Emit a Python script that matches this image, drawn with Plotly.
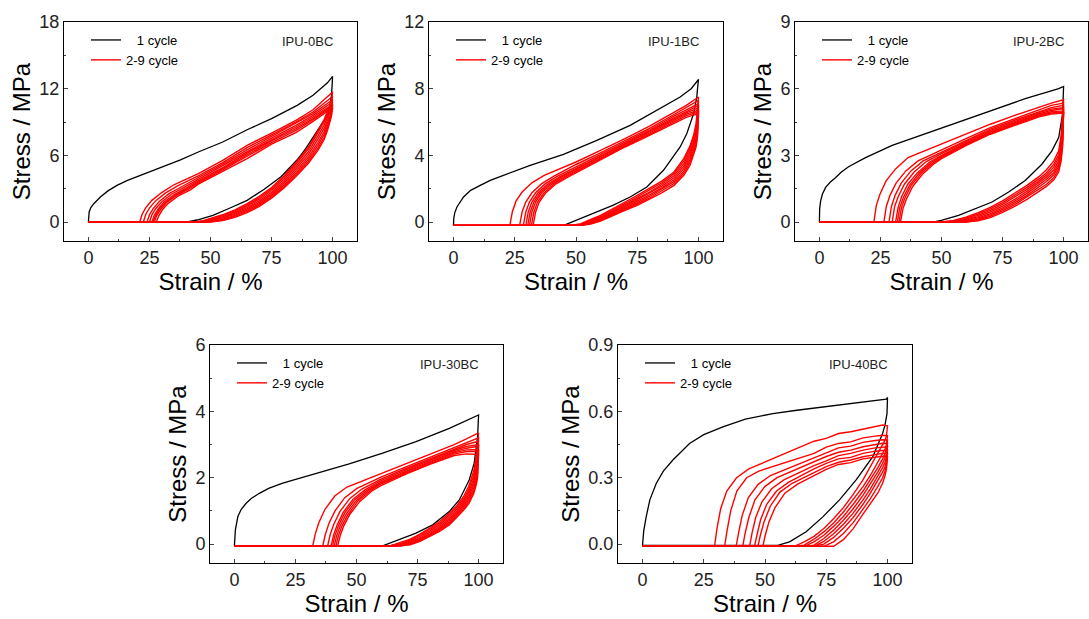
import plotly.graph_objects as go

# ---------------- IPU-0BC ----------------
ipu0_c1_load_x = [0, 0.3, 1, 2.2, 4.9, 8, 11.7, 16, 21.3, 29.5, 37.7, 45, 55, 65, 75, 85.5, 92, 97.8, 100]
ipu0_c1_load_y = [0, 0.9, 1.3, 1.65, 2.25, 2.8, 3.3, 3.75, 4.2, 4.9, 5.6, 6.3, 7.2, 8.3, 9.3, 10.5, 11.4, 12.5, 13.1]
ipu0_c1_unload_x = [100, 99.6, 98.5, 95.5, 92.3, 89, 85.5, 79, 72, 65, 58, 51, 44.5, 40.5, 0]
ipu0_c1_unload_y = [13.1, 11.5, 9.8, 8.8, 7.7, 6.6, 5.6, 4.1, 2.95, 1.95, 1.26, 0.6, 0.18, 0, 0]
ipu0_head_x = [
    [0, 21, 22, 23.5, 26, 30, 35],
    [0, 22.5, 23.5, 25, 27.5, 31.5, 36.5],
    [0, 24, 25, 26.5, 29, 33, 38],
    [0, 25, 26, 27.5, 30, 34, 39],
    [0, 26, 27, 28.5, 31, 35, 40],
    [0, 26.5, 27.5, 29, 31.5, 35.5, 40.5],
    [0, 27, 28, 29.5, 32, 36, 41],
    [0, 27.8, 28.8, 30.3, 32.8, 36.8, 41.8],
]
ipu0_head_y = [
    [0, 0, 0.7, 1.3, 1.95, 2.65, 3.35],
    [0, 0, 0.7, 1.25, 1.9, 2.6, 3.25],
    [0, 0, 0.65, 1.2, 1.85, 2.55, 3.15],
    [0, 0, 0.65, 1.2, 1.8, 2.5, 3.1],
    [0, 0, 0.6, 1.15, 1.8, 2.45, 3.05],
    [0, 0, 0.6, 1.15, 1.75, 2.4, 3.0],
    [0, 0, 0.6, 1.1, 1.75, 2.4, 2.95],
    [0, 0, 0.55, 1.1, 1.7, 2.35, 2.9],
]
ipu0_tail_x = [45, 55, 65, 75, 85, 92, 100]
ipu0_tail_y = [
    [4.35, 5.55, 6.9, 8.0, 9.15, 10.1, 11.7],
    [4.15, 5.35, 6.7, 7.85, 9.0, 9.9, 11.3],
    [4.0, 5.2, 6.5, 7.7, 8.85, 9.75, 11.0],
    [3.85, 5.05, 6.35, 7.55, 8.7, 9.6, 10.8],
    [3.7, 4.9, 6.2, 7.4, 8.55, 9.45, 10.6],
    [3.6, 4.8, 6.05, 7.3, 8.4, 9.3, 10.5],
    [3.5, 4.7, 5.9, 7.15, 8.25, 9.2, 10.4],
    [3.4, 4.55, 5.7, 7.0, 8.05, 9.05, 10.3],
]
ipu0_unload_x = [100, 99.6, 99, 98, 96.5, 94, 90, 85, 80, 75, 70, 65, 60, 55, 50, 47, 44, 41, 0]
ipu0_unload_y = [
    [11.7, 11.0, 10.5, 10.0, 9.2, 8.2, 6.7, 5.35, 4.15, 3.1, 2.3, 1.65, 1.1, 0.65, 0.3, 0.12, 0.02, 0, 0],
    [11.3, 10.75, 10.3, 9.8, 9.0, 8.05, 6.55, 5.2, 4.0, 2.98, 2.18, 1.55, 1.02, 0.57, 0.24, 0.08, 0, 0, 0],
    [11.0, 10.5, 10.0, 9.5, 8.7, 7.75, 6.3, 5.0, 3.82, 2.83, 2.05, 1.42, 0.9, 0.48, 0.17, 0.04, 0, 0, 0],
    [10.8, 10.25, 9.75, 9.2, 8.4, 7.45, 6.05, 4.8, 3.65, 2.68, 1.9, 1.3, 0.8, 0.4, 0.12, 0.02, 0, 0, 0],
    [10.6, 10.0, 9.5, 8.95, 8.1, 7.15, 5.8, 4.6, 3.48, 2.53, 1.77, 1.18, 0.7, 0.32, 0.08, 0, 0, 0, 0],
    [10.5, 9.85, 9.3, 8.7, 7.85, 6.9, 5.6, 4.42, 3.32, 2.4, 1.64, 1.06, 0.6, 0.24, 0.04, 0, 0, 0, 0],
    [10.4, 9.7, 9.15, 8.5, 7.6, 6.65, 5.4, 4.25, 3.18, 2.27, 1.52, 0.95, 0.5, 0.17, 0.01, 0, 0, 0, 0],
    [10.3, 9.6, 9.0, 8.3, 7.4, 6.45, 5.25, 4.1, 3.05, 2.15, 1.4, 0.85, 0.42, 0.12, 0, 0, 0, 0, 0],
]

# ---------------- IPU-1BC ----------------
ipu1_c1_load_x = [0, 0.1, 0.5, 1.4, 4.1, 7, 10.9, 15, 20.4, 31.3, 44.9, 58.5, 72.1, 85.7, 92.5, 97, 100]
ipu1_c1_load_y = [-0.2, 0.2, 0.55, 0.9, 1.5, 1.9, 2.2, 2.5, 2.8, 3.4, 4.06, 4.9, 5.8, 6.9, 7.5, 8.0, 8.55]
ipu1_c1_unload_x = [100, 99.6, 99.3, 98, 95.2, 92.5, 85.7, 78.9, 72.1, 65, 58.5, 51, 45, 0]
ipu1_c1_unload_y = [8.55, 8.0, 7.5, 6.5, 5.3, 4.5, 3.1, 2.1, 1.5, 1.0, 0.6, 0.15, -0.2, -0.2]
ipu1_head_x = [
    [0, 23, 24, 25.5, 28, 32, 37],
    [0, 27, 28, 29.5, 32, 36, 41],
    [0, 28.5, 29.5, 31, 33.5, 37.5, 42.5],
    [0, 29.5, 30.5, 32, 34.5, 38.5, 43.5],
    [0, 30.3, 31.3, 32.8, 35.3, 39.3, 44.3],
    [0, 31, 32, 33.5, 36, 40, 45],
    [0, 31.8, 32.8, 34.3, 36.8, 40.8, 45.8],
    [0, 32.5, 33.5, 35, 37.5, 41.5, 46.5],
]
ipu1_head_y = [
    [-0.2, -0.2, 0.6, 1.25, 1.8, 2.35, 2.8],
    [-0.2, -0.2, 0.6, 1.2, 1.75, 2.3, 2.75],
    [-0.2, -0.2, 0.6, 1.2, 1.75, 2.3, 2.75],
    [-0.2, -0.2, 0.6, 1.2, 1.75, 2.28, 2.72],
    [-0.2, -0.2, 0.6, 1.2, 1.75, 2.28, 2.72],
    [-0.2, -0.2, 0.6, 1.2, 1.75, 2.26, 2.7],
    [-0.2, -0.2, 0.6, 1.2, 1.72, 2.25, 2.7],
    [-0.2, -0.2, 0.6, 1.2, 1.72, 2.25, 2.68],
]
ipu1_tail_x = [50, 60, 70, 80, 90, 95, 100]
ipu1_tail_y = [
    [3.6, 4.3, 5.0, 5.75, 6.6, 7.0, 7.5],
    [3.45, 4.15, 4.88, 5.62, 6.45, 6.85, 7.3],
    [3.3, 4.05, 4.8, 5.52, 6.35, 6.75, 7.1],
    [3.2, 3.97, 4.72, 5.45, 6.25, 6.65, 7.0],
    [3.15, 3.9, 4.66, 5.38, 6.17, 6.55, 6.85],
    [3.08, 3.83, 4.6, 5.32, 6.1, 6.47, 6.7],
    [3.02, 3.77, 4.55, 5.26, 6.03, 6.38, 6.6],
    [2.95, 3.7, 4.5, 5.2, 5.95, 6.28, 6.5],
]
ipu1_unload_x = [100, 99.6, 99, 98, 96.5, 94, 90, 85, 80, 75, 70, 65, 60, 56, 52, 48, 0]
ipu1_unload_y = [
    [7.5, 6.6, 5.9, 5.2, 4.55, 3.8, 3.0, 2.45, 2.0, 1.6, 1.2, 0.8, 0.4, 0.15, -0.1, -0.2, -0.2],
    [7.3, 6.4, 5.7, 5.05, 4.4, 3.67, 2.9, 2.35, 1.9, 1.5, 1.12, 0.73, 0.33, 0.1, -0.14, -0.2, -0.2],
    [7.1, 6.2, 5.5, 4.87, 4.22, 3.5, 2.77, 2.25, 1.8, 1.42, 1.04, 0.65, 0.27, 0.05, -0.17, -0.2, -0.2],
    [7.0, 6.0, 5.3, 4.7, 4.05, 3.35, 2.65, 2.15, 1.72, 1.34, 0.97, 0.58, 0.21, 0.0, -0.2, -0.2, -0.2],
    [6.85, 5.8, 5.1, 4.52, 3.88, 3.2, 2.53, 2.05, 1.63, 1.26, 0.9, 0.52, 0.16, -0.04, -0.2, -0.2, -0.2],
    [6.7, 5.55, 4.9, 4.35, 3.72, 3.05, 2.42, 1.95, 1.53, 1.17, 0.83, 0.47, 0.12, -0.08, -0.2, -0.2, -0.2],
    [6.6, 5.3, 4.7, 4.17, 3.56, 2.92, 2.31, 1.85, 1.44, 1.08, 0.76, 0.42, 0.08, -0.1, -0.2, -0.2, -0.2],
    [6.5, 5.1, 4.5, 4.0, 3.4, 2.8, 2.2, 1.75, 1.35, 1.0, 0.7, 0.38, 0.05, -0.12, -0.2, -0.2, -0.2],
]

# ---------------- IPU-2BC ----------------
ipu2_c1_load_x = [0, 0.1, 0.5, 1.2, 2.6, 4.5, 6.7, 9, 12.1, 18.9, 29.8, 43.5, 57, 70.7, 84.3, 98, 100]
ipu2_c1_load_y = [0, 0.6, 0.95, 1.25, 1.57, 1.8, 2.0, 2.25, 2.5, 2.9, 3.45, 3.97, 4.5, 5.0, 5.55, 6.0, 6.1]
ipu2_c1_unload_x = [100, 99.6, 98, 95.2, 91.1, 84.3, 77.5, 70.7, 63.9, 57, 50.3, 47, 0]
ipu2_c1_unload_y = [6.1, 4.87, 3.8, 3.2, 2.6, 1.87, 1.35, 0.9, 0.6, 0.3, 0.08, 0, 0]
ipu2_head_x = [
    [0, 22.3, 23.3, 24.8, 27.3, 31.3, 36.3],
    [0, 26.4, 27.4, 28.9, 31.4, 35.4, 40.4],
    [0, 28.5, 29.5, 31, 33.5, 37.5, 42.5],
    [0, 29.8, 30.8, 32.3, 34.8, 38.8, 43.8],
    [0, 31.2, 32.2, 33.7, 36.2, 40.2, 45.2],
    [0, 31.9, 32.9, 34.4, 36.9, 40.9, 45.9],
    [0, 32.6, 33.6, 35.1, 37.6, 41.6, 46.6],
    [0, 33.2, 34.2, 35.7, 38.2, 42.2, 47.2],
]
ipu2_head_y = [
    [0, 0, 0.75, 1.25, 1.85, 2.4, 2.9],
    [0, 0, 0.7, 1.2, 1.75, 2.3, 2.75],
    [0, 0, 0.7, 1.2, 1.75, 2.3, 2.75],
    [0, 0, 0.7, 1.15, 1.7, 2.25, 2.72],
    [0, 0, 0.65, 1.15, 1.7, 2.22, 2.7],
    [0, 0, 0.65, 1.1, 1.65, 2.2, 2.68],
    [0, 0, 0.65, 1.1, 1.65, 2.18, 2.66],
    [0, 0, 0.6, 1.05, 1.6, 2.15, 2.64],
]
ipu2_tail_x = [50, 60, 70, 80, 90, 95, 100]
ipu2_tail_y = [
    [3.5, 3.95, 4.4, 4.8, 5.18, 5.35, 5.5],
    [3.25, 3.75, 4.25, 4.65, 5.05, 5.25, 5.35],
    [3.15, 3.68, 4.18, 4.58, 4.98, 5.15, 5.25],
    [3.08, 3.62, 4.12, 4.52, 4.92, 5.08, 5.15],
    [3.0, 3.56, 4.07, 4.47, 4.87, 5.02, 5.1],
    [2.95, 3.52, 4.03, 4.43, 4.82, 4.96, 5.0],
    [2.9, 3.48, 3.99, 4.39, 4.78, 4.91, 4.95],
    [2.85, 3.44, 3.95, 4.35, 4.73, 4.86, 4.9],
]
ipu2_unload_x = [100, 99.6, 99, 98, 96, 93, 90, 85, 80, 75, 70, 65, 60, 55, 50, 0]
ipu2_unload_y = [
    [5.5, 4.7, 3.9, 3.2, 2.75, 2.35, 2.05, 1.65, 1.28, 0.95, 0.66, 0.42, 0.22, 0.07, 0, 0],
    [5.35, 4.45, 3.7, 3.05, 2.6, 2.22, 1.95, 1.56, 1.2, 0.87, 0.59, 0.36, 0.17, 0.04, 0, 0],
    [5.25, 4.25, 3.5, 2.9, 2.48, 2.12, 1.86, 1.47, 1.11, 0.79, 0.52, 0.3, 0.12, 0.02, 0, 0],
    [5.15, 4.05, 3.35, 2.75, 2.35, 2.02, 1.77, 1.38, 1.02, 0.71, 0.45, 0.24, 0.08, 0, 0, 0],
    [5.1, 3.85, 3.2, 2.62, 2.23, 1.92, 1.68, 1.29, 0.94, 0.64, 0.38, 0.18, 0.05, 0, 0, 0],
    [5.0, 3.7, 3.02, 2.5, 2.12, 1.82, 1.58, 1.2, 0.86, 0.57, 0.32, 0.13, 0.02, 0, 0, 0],
    [4.95, 3.55, 2.88, 2.37, 2.0, 1.7, 1.48, 1.11, 0.78, 0.5, 0.26, 0.09, 0, 0, 0, 0],
    [4.9, 3.4, 2.75, 2.25, 1.9, 1.6, 1.38, 1.02, 0.7, 0.43, 0.2, 0.05, 0, 0, 0, 0],
]

# ---------------- IPU-30BC ----------------
ipu30_c1_load_x = [0, 0.1, 0.4, 1.4, 2.8, 4.8, 7, 10.2, 14, 19.8, 33.4, 47, 60.7, 74.4, 88, 95, 100]
ipu30_c1_load_y = [-0.05, 0.2, 0.43, 0.83, 1.05, 1.23, 1.38, 1.53, 1.68, 1.84, 2.12, 2.42, 2.74, 3.09, 3.49, 3.72, 3.89]
ipu30_c1_unload_x = [100, 99.6, 98.2, 96.2, 92.1, 88, 81.2, 74.4, 67.5, 60.7, 0]
ipu30_c1_unload_y = [3.89, 3.24, 2.44, 1.94, 1.33, 0.98, 0.58, 0.33, 0.13, -0.05, -0.05]
ipu30_head_x = [
    [0, 32.1, 33.1, 34.6, 37.1, 41.1, 46.1],
    [0, 36.2, 37.2, 38.7, 41.2, 45.2, 50.2],
    [0, 38.2, 39.2, 40.7, 43.2, 47.2, 52.2],
    [0, 39.6, 40.6, 42.1, 44.6, 48.6, 53.6],
    [0, 40.2, 41.2, 42.7, 45.2, 49.2, 54.2],
    [0, 40.9, 41.9, 43.4, 45.9, 49.9, 54.9],
    [0, 41.6, 42.6, 44.1, 46.6, 50.6, 55.6],
    [0, 42.3, 43.3, 44.8, 47.3, 51.3, 56.3],
]
ipu30_head_y = [
    [-0.05, -0.05, 0.3, 0.65, 1.05, 1.45, 1.72],
    [-0.05, -0.05, 0.28, 0.62, 1.0, 1.4, 1.68],
    [-0.05, -0.05, 0.28, 0.6, 0.98, 1.37, 1.66],
    [-0.05, -0.05, 0.27, 0.58, 0.96, 1.35, 1.64],
    [-0.05, -0.05, 0.27, 0.57, 0.94, 1.33, 1.62],
    [-0.05, -0.05, 0.26, 0.56, 0.92, 1.31, 1.61],
    [-0.05, -0.05, 0.25, 0.55, 0.9, 1.3, 1.6],
    [-0.05, -0.05, 0.25, 0.55, 0.9, 1.28, 1.6],
]
ipu30_tail_x = [60, 70, 80, 90, 95, 100]
ipu30_tail_y = [
    [2.12, 2.4, 2.7, 3.0, 3.17, 3.35],
    [2.02, 2.32, 2.62, 2.92, 3.07, 3.2],
    [1.96, 2.27, 2.57, 2.87, 3.0, 3.1],
    [1.91, 2.23, 2.53, 2.82, 2.94, 3.0],
    [1.87, 2.19, 2.49, 2.78, 2.89, 2.95],
    [1.84, 2.16, 2.46, 2.75, 2.84, 2.85],
    [1.81, 2.13, 2.43, 2.71, 2.79, 2.8],
    [1.76, 2.1, 2.4, 2.67, 2.72, 2.7],
]
ipu30_unload_x = [100, 99.6, 99, 98, 96, 94, 91, 88, 84, 80, 76, 72, 68, 64, 0]
ipu30_unload_y = [
    [3.35, 3.0, 2.6, 2.2, 1.75, 1.45, 1.15, 0.93, 0.68, 0.48, 0.3, 0.15, 0.04, -0.05, -0.05],
    [3.2, 2.85, 2.45, 2.08, 1.66, 1.38, 1.1, 0.88, 0.63, 0.44, 0.27, 0.12, 0.01, -0.05, -0.05],
    [3.1, 2.7, 2.32, 1.97, 1.58, 1.32, 1.04, 0.82, 0.58, 0.4, 0.23, 0.09, -0.01, -0.05, -0.05],
    [3.0, 2.55, 2.2, 1.87, 1.5, 1.26, 0.98, 0.76, 0.53, 0.35, 0.19, 0.06, -0.03, -0.05, -0.05],
    [2.95, 2.4, 2.08, 1.78, 1.42, 1.2, 0.93, 0.71, 0.49, 0.31, 0.16, 0.04, -0.04, -0.05, -0.05],
    [2.85, 2.28, 1.97, 1.69, 1.35, 1.14, 0.88, 0.66, 0.45, 0.28, 0.13, 0.02, -0.05, -0.05, -0.05],
    [2.8, 2.14, 1.87, 1.6, 1.28, 1.08, 0.84, 0.62, 0.41, 0.25, 0.1, 0.0, -0.05, -0.05, -0.05],
    [2.7, 2.0, 1.78, 1.52, 1.22, 1.03, 0.8, 0.58, 0.38, 0.22, 0.08, -0.02, -0.05, -0.05, -0.05],
]

# ---------------- IPU-40BC ----------------
ipu40_c1_load_x = [0, 0.1, 0.5, 1.5, 3, 5.6, 8.5, 12.4, 19.2, 25, 32.8, 42, 53.2, 63, 73.6, 85, 95, 99.5, 100]
ipu40_c1_load_y = [-0.006, 0.005, 0.06, 0.123, 0.2, 0.274, 0.33, 0.38, 0.455, 0.495, 0.53, 0.565, 0.59, 0.605,
                   0.62, 0.635, 0.648, 0.655, 0.663]
ipu40_c1_unload_x = [100, 99.8, 99, 98, 94, 87.2, 80.4, 73.6, 66.8, 60, 55.2, 0]
ipu40_c1_unload_y = [0.663, 0.59, 0.54, 0.5, 0.395, 0.29, 0.2, 0.123, 0.056, 0.01, -0.006, -0.006]
ipu40_head_x = [
    [0, 29.4, 30.4, 31.9, 34.4, 38.4, 43.4],
    [0, 33.5, 34.5, 36, 38.5, 42.5, 47.5],
    [0, 38.2, 39.2, 40.7, 43.2, 47.2, 52.2],
    [0, 40.9, 41.9, 43.4, 45.9, 49.9, 54.9],
    [0, 43.7, 44.7, 46.2, 48.7, 52.7, 57.7],
    [0, 45.7, 46.7, 48.2, 50.7, 54.7, 59.7],
    [0, 47.1, 48.1, 49.6, 52.1, 56.1, 61.1],
    [0, 49.1, 50.1, 51.6, 54.1, 58.1, 63.1],
]
ipu40_head_y = [
    [-0.01, -0.01, 0.07, 0.16, 0.24, 0.3, 0.34],
    [-0.01, -0.01, 0.06, 0.15, 0.24, 0.3, 0.33],
    [-0.01, -0.01, 0.05, 0.13, 0.21, 0.27, 0.31],
    [-0.01, -0.01, 0.05, 0.12, 0.2, 0.26, 0.3],
    [-0.01, -0.01, 0.05, 0.12, 0.19, 0.25, 0.29],
    [-0.01, -0.01, 0.04, 0.11, 0.18, 0.24, 0.28],
    [-0.01, -0.01, 0.04, 0.1, 0.17, 0.235, 0.275],
    [-0.01, -0.01, 0.04, 0.1, 0.165, 0.23, 0.27],
]
ipu40_tail_x = [70, 75, 80, 85, 90, 95, 98, 100]
ipu40_tail_y = [
    [0.465, 0.478, 0.5, 0.508, 0.52, 0.53, 0.538, 0.535],
    [0.41, 0.438, 0.455, 0.462, 0.48, 0.488, 0.492, 0.49],
    [0.39, 0.41, 0.435, 0.443, 0.46, 0.468, 0.472, 0.47],
    [0.37, 0.396, 0.415, 0.425, 0.44, 0.45, 0.456, 0.455],
    [0.355, 0.376, 0.4, 0.41, 0.425, 0.435, 0.44, 0.44],
    [0.34, 0.365, 0.385, 0.392, 0.41, 0.42, 0.425, 0.425],
    [0.325, 0.35, 0.37, 0.38, 0.395, 0.405, 0.41, 0.41],
    [0.31, 0.338, 0.36, 0.368, 0.385, 0.393, 0.397, 0.395],
]
ipu40_unload_x = [100, 99.6, 99, 98, 96, 93, 90, 86, 82, 78, 74, 70, 66, 62, 0]
ipu40_unload_y = [
    [0.535, 0.49, 0.47, 0.45, 0.41, 0.345, 0.29, 0.225, 0.165, 0.115, 0.07, 0.035, 0.01, -0.01, -0.01],
    [0.49, 0.45, 0.43, 0.41, 0.37, 0.31, 0.26, 0.2, 0.145, 0.095, 0.055, 0.022, -0.005, -0.01, -0.01],
    [0.47, 0.43, 0.41, 0.385, 0.345, 0.29, 0.24, 0.18, 0.125, 0.08, 0.04, 0.01, -0.01, -0.01, -0.01],
    [0.455, 0.41, 0.39, 0.365, 0.325, 0.27, 0.22, 0.16, 0.108, 0.063, 0.025, -0.005, -0.01, -0.01, -0.01],
    [0.44, 0.395, 0.37, 0.345, 0.305, 0.25, 0.2, 0.14, 0.09, 0.047, 0.012, -0.01, -0.01, -0.01, -0.01],
    [0.425, 0.375, 0.35, 0.325, 0.285, 0.23, 0.18, 0.12, 0.072, 0.03, 0.0, -0.01, -0.01, -0.01, -0.01],
    [0.41, 0.36, 0.33, 0.3, 0.26, 0.205, 0.158, 0.097, 0.048, 0.01, -0.01, -0.01, -0.01, -0.01, -0.01],
    [0.395, 0.34, 0.31, 0.275, 0.23, 0.18, 0.135, 0.07, 0.02, -0.01, -0.01, -0.01, -0.01, -0.01, -0.01],
]

sample_names = ["IPU-0BC", "IPU-1BC", "IPU-2BC", "IPU-30BC", "IPU-40BC"]
y_tops = [18, 12, 9, 6, 0.9]
y_dticks = [6, 4, 3, 2, 0.3]

panels = [
    (ipu0_c1_load_x, ipu0_c1_load_y, ipu0_c1_unload_x, ipu0_c1_unload_y,
     ipu0_head_x, ipu0_head_y, ipu0_tail_x, ipu0_tail_y, ipu0_unload_x, ipu0_unload_y),
    (ipu1_c1_load_x, ipu1_c1_load_y, ipu1_c1_unload_x, ipu1_c1_unload_y,
     ipu1_head_x, ipu1_head_y, ipu1_tail_x, ipu1_tail_y, ipu1_unload_x, ipu1_unload_y),
    (ipu2_c1_load_x, ipu2_c1_load_y, ipu2_c1_unload_x, ipu2_c1_unload_y,
     ipu2_head_x, ipu2_head_y, ipu2_tail_x, ipu2_tail_y, ipu2_unload_x, ipu2_unload_y),
    (ipu30_c1_load_x, ipu30_c1_load_y, ipu30_c1_unload_x, ipu30_c1_unload_y,
     ipu30_head_x, ipu30_head_y, ipu30_tail_x, ipu30_tail_y, ipu30_unload_x, ipu30_unload_y),
    (ipu40_c1_load_x, ipu40_c1_load_y, ipu40_c1_unload_x, ipu40_c1_unload_y,
     ipu40_head_x, ipu40_head_y, ipu40_tail_x, ipu40_tail_y, ipu40_unload_x, ipu40_unload_y),
]

# frame of each panel in page pixels: (left, right, top, bottom)
W, H = 1089, 619
frames = [(64, 357, 22, 241), (429, 723, 22, 241), (795, 1088, 22, 241),
          (210, 503, 345, 563), (618, 912, 345, 563)]

FONT = "Arial, Liberation Sans, sans-serif"
fig = go.Figure()
layout = dict(width=W, height=H, margin=dict(l=0, r=0, t=0, b=0, autoexpand=False),
              paper_bgcolor="white", plot_bgcolor="white",
              font=dict(family=FONT, color="black"), annotations=[])

for k, p in enumerate(panels):
    c1lx, c1ly, c1ux, c1uy, hx, hy, tx, ty, ux, uy = p
    s = "" if k == 0 else str(k + 1)
    leg = "legend" + s

    fig.add_trace(go.Scatter(
        x=c1lx + c1ux, y=c1ly + c1uy, mode="lines",
        line=dict(color="black", width=1.3),
        name="\u00a0\u00a0\u00a01 cycle", legend=leg,
        xaxis="x" + s, yaxis="y" + s, hoverinfo="skip"))
    for i in range(len(hx)):
        fig.add_trace(go.Scatter(
            x=hx[i] + tx + ux, y=hy[i] + ty[i] + uy[i], mode="lines",
            line=dict(color="#ff0000", width=1.4),
            name="2-9 cycle", legend=leg, showlegend=(i == 0),
            xaxis="x" + s, yaxis="y" + s, hoverinfo="skip"))

    l, r, t, b = frames[k]
    top = y_tops[k]
    layout["xaxis" + s] = dict(
        domain=[l / W, r / W], anchor="y" + s, range=[-10, 110], automargin=False,
        tick0=0, dtick=25, ticks="inside", ticklen=4, tickwidth=1,
        minor=dict(dtick=12.5, ticks="inside", ticklen=2),
        showline=True, mirror=True, linecolor="black", linewidth=1,
        showgrid=False, zeroline=False,
        tickfont=dict(size=18, color="#222"),
        title=dict(text="Strain / %", font=dict(size=24), standoff=0))
    layout["yaxis" + s] = dict(
        domain=[1 - b / H, 1 - t / H], anchor="x" + s, automargin=False,
        range=[-0.095 * top, top], tick0=0, dtick=y_dticks[k],
        tickformat=".1f" if top < 1 else None,
        ticks="inside", ticklen=4, tickwidth=1,
        minor=dict(dtick=y_dticks[k] / 2, ticks="inside", ticklen=2),
        showline=True, mirror=True, linecolor="black", linewidth=1,
        showgrid=False, zeroline=False,
        tickfont=dict(size=18, color="#222"),
        title=dict(text="Stress / MPa", font=dict(size=24), standoff=1))
    layout[leg] = dict(
        x=(l + 22) / W, y=1 - (t + 3) / H, xanchor="left", yanchor="top",
        bgcolor="rgba(0,0,0,0)", font=dict(size=13), tracegroupgap=0)
    layout["annotations"].append(dict(
        text=sample_names[k], xref="x" + s + " domain", yref="y" + s + " domain",
        x=0.925, y=0.91, xanchor="right", yanchor="middle", showarrow=False,
        font=dict(size=13, color="#222")))

fig.update_layout(**layout)
fig.write_html("out.html", config={"displayModeBar": False},
               post_script="document.body.style.margin='0';")
